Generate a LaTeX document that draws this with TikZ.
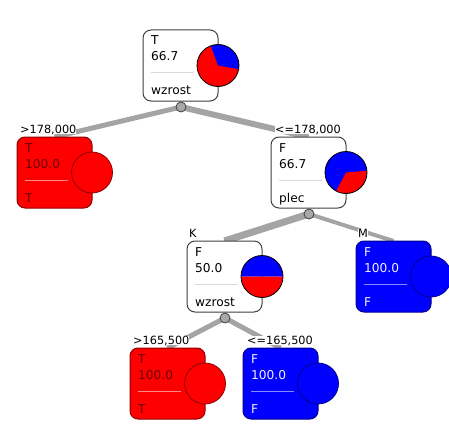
\documentclass[tikz,border=0pt]{standalone}
\usepackage{fontspec}
\setmainfont{DejaVu Sans}
\usetikzlibrary{backgrounds}
\definecolor{edgegray}{HTML}{A4A4A4}
\definecolor{dotgray}{HTML}{A8A8A8}
\definecolor{boxborder}{HTML}{404040}
\definecolor{seplight}{HTML}{DADADA}
\definecolor{darkred}{HTML}{8B0000}
\definecolor{redtext}{HTML}{680000}
\definecolor{redsep}{HTML}{FF8A8A}
\definecolor{darkblue}{HTML}{00008B}
\definecolor{bluetext}{HTML}{F0F0FF}
\definecolor{bluesep}{HTML}{8A8AFF}
\tikzset{
  boxsh/.style={rectangle, rounded corners=8pt, minimum width=75pt, minimum height=71pt, inner sep=0pt, outer sep=0pt, line width=1pt},
  inner/.style={boxsh, draw=boxborder, fill=white},
  redleaf/.style={boxsh, draw=darkred, fill=red},
  blueleaf/.style={boxsh, draw=darkblue, fill=blue},
  txt/.style={inner sep=0pt, font=\fontsize{12.2}{14}\selectfont},
  lbl/.style={inner sep=0pt, fill=white, anchor=base west, font=\fontsize{11.3}{13}\selectfont},
  edge/.style={draw=edgegray, line cap=butt},
  jdot/.style={circle, draw=boxborder, fill=dotgray, minimum size=10pt, inner sep=0pt, line width=0.8pt},
  piecirc/.style={line width=0.8pt},
}
\newcommand\treebox[8]{%
  \node[#3, anchor=north west] (#1) at (#2) {};
  \node[txt, text=#4, anchor=base west] at ([shift={(8,-15)}]#1.north west) {#6};
  \node[txt, text=#4, anchor=base west] at ([shift={(8,-31)}]#1.north west) {#7};
  \draw[#5, line width=1pt] ([shift={(8,-43)}]#1.north west) -- ++(43,0);
  \node[txt, text=#4, anchor=base west] at ([shift={(8,-65)}]#1.north west) {#8};
}
\begin{document}
\begin{tikzpicture}[x=1pt, y=1pt]
\useasboundingbox (0,0) rectangle (449,440);
% boxes
\treebox{root}{143,410}{inner}{black}{seplight}{T}{66.7}{wzrost}
\treebox{leafl}{17,303}{redleaf}{redtext}{redsep}{T}{100.0}{T}
\treebox{plec}{271,303}{inner}{black}{seplight}{F}{66.7}{plec}
\treebox{kn}{187,199}{inner}{black}{seplight}{F}{50.0}{wzrost}
\treebox{mn}{356,199}{blueleaf}{bluetext}{bluesep}{F}{100.0}{F}
\treebox{bl}{130,92}{redleaf}{redtext}{redsep}{T}{100.0}{T}
\treebox{br}{243,92}{blueleaf}{bluetext}{bluesep}{F}{100.0}{F}
% joint dots
\node[jdot] (rootd) at (181,333) {};
\node[jdot] (plecd) at (309,226) {};
\node[jdot] (kd) at (225,122) {};
% edges (behind boxes)
\begin{scope}[on background layer]
\draw[edge, line width=5pt] (rootd.center) -- (leafl.north);
\draw[edge, line width=6pt] (rootd.center) -- (plec.north);
\draw[edge, line width=7pt] (plecd.center) -- (kn.north);
\draw[edge, line width=4pt] (plecd.center) -- (mn.north);
\draw[edge, line width=5pt] (kd.center) -- (bl.north);
\draw[edge, line width=5pt] (kd.center) -- (br.north);
\end{scope}
% pies
\fill[red] (218,374.5) circle[radius=21];
\fill[blue] (218,374.5) -- ++(-10:21) arc[start angle=-10, end angle=110, radius=21] -- cycle;
\draw[piecirc] (218,374.5) circle[radius=21];
\fill[blue] (346,267.5) circle[radius=21];
\fill[red] (346,267.5) -- ++(-118:21) arc[start angle=-118, end angle=5, radius=21] -- cycle;
\draw[piecirc] (346,267.5) circle[radius=21];
\fill[blue] (262,163.5) -- ++(0:21) arc[start angle=0, end angle=180, radius=21] -- cycle;
\fill[red] (262,163.5) -- ++(180:21) arc[start angle=180, end angle=360, radius=21] -- cycle;
\draw[piecirc] (262,163.5) circle[radius=21];
\draw[piecirc, draw=darkred, fill=red] (92,267.5) circle[radius=20.5];
\draw[piecirc, draw=darkblue, fill=blue] (431,163.5) circle[radius=20.5];
\draw[piecirc, draw=darkred, fill=red] (205,56.5) circle[radius=20.5];
\draw[piecirc, draw=darkblue, fill=blue] (318,56.5) circle[radius=20.5];
% edge labels
\node[lbl] (l1) at (20,307) {>178,000};
\node[lbl] (l2) at (275,307) {<=178,000};
\node[lbl] (l3) at (189,203) {K};
\node[lbl] (l4) at (358,203) {M};
\node[lbl] (l5) at (133,96) {>165,500};
\node[lbl] (l6) at (247,96) {<=165,500};
\end{tikzpicture}
\end{document}
